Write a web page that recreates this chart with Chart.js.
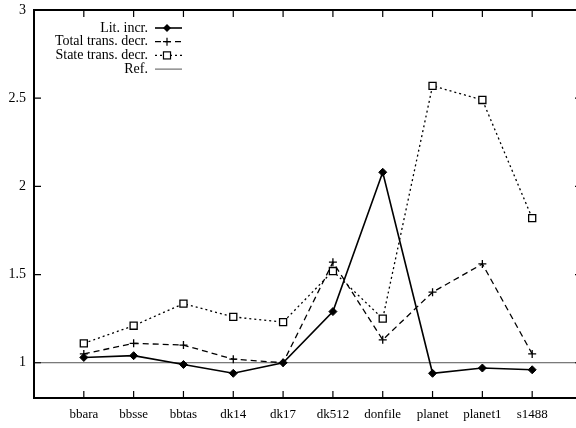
<!DOCTYPE html>
<html><head><meta charset="utf-8">
<script src="https://cdn.jsdelivr.net/npm/chart.js@4.4.0/dist/chart.umd.min.js"></script>
<style>html,body{margin:0;padding:0;background:#fff;overflow:hidden;width:576px;height:428px}
#wrap{position:relative;width:590px;height:428px}</style></head>
<body><div id="wrap"><canvas id="c" width="590" height="428"></canvas></div>
<script>
const categories = ['bbara','bbsse','bbtas','dk14','dk17','dk512','donfile','planet','planet1','s1488'];
const litIncr = [1.03,1.04,0.99,0.94,1.00,1.29,2.08,0.94,0.97,0.96];
const totalTransDecr = [1.05,1.11,1.10,1.02,1.00,1.57,1.13,1.40,1.56,1.05];
const stateTransDecr = [1.11,1.21,1.335,1.26,1.23,1.52,1.25,2.57,2.49,1.82];
const refValue = 1;
const yTicks = [1,1.5,2,2.5,3];
const seriesNames = ['Lit. incr.','Total trans. decr.','State trans. decr.','Ref.'];

const FONT = '"Liberation Serif","DejaVu Serif",serif';
const toPts = arr => arr.map((v,i)=>({x:i+1,y:v}));

const framePlugin = {
  id:'frame',
  afterDatasetsDraw(chart){
    const {ctx, chartArea:a, scales:{x,y}} = chart;
    ctx.save();
    ctx.strokeStyle='#000';
    ctx.lineWidth=1.2;
    ctx.beginPath();
    categories.forEach((c,i)=>{
      const px = x.getPixelForValue(i+1);
      ctx.moveTo(px,a.top); ctx.lineTo(px,a.top+7);
      ctx.moveTo(px,a.bottom); ctx.lineTo(px,a.bottom-7);
    });
    yTicks.forEach(v=>{
      const py = y.getPixelForValue(v);
      ctx.moveTo(a.left,py); ctx.lineTo(a.left+7,py);
      ctx.moveTo(a.right,py); ctx.lineTo(a.right-7,py);
    });
    ctx.stroke();
    ctx.lineWidth=2;
    ctx.strokeRect(a.left,a.top,a.right-a.left,a.bottom-a.top);
    ctx.restore();
  }
};

function drawMarker(ctx, style, x, y, r){
  ctx.save();
  ctx.setLineDash([]);
  ctx.lineWidth=1.2;
  ctx.strokeStyle='#000';
  if(style==='rectRot'){
    ctx.fillStyle='#000';
    ctx.beginPath();ctx.moveTo(x,y-r);ctx.lineTo(x+r,y);ctx.lineTo(x,y+r);ctx.lineTo(x-r,y);ctx.closePath();ctx.fill();
  } else if(style==='cross'){
    ctx.beginPath();ctx.moveTo(x-r,y);ctx.lineTo(x+r,y);ctx.moveTo(x,y-r);ctx.lineTo(x,y+r);ctx.stroke();
  } else if(style==='rect'){
    const s=r*Math.SQRT1_2;
    ctx.fillStyle='#fff';
    ctx.fillRect(x-s,y-s,2*s,2*s);
    ctx.strokeRect(x-s,y-s,2*s,2*s);
  }
  ctx.restore();
}

const legendPlugin = {
  id:'gpLegend',
  afterDraw(chart){
    const ctx = chart.ctx;
    ctx.save();
    ctx.font = '14px '+FONT;
    ctx.fillStyle='#000';
    ctx.textAlign='right';
    ctx.textBaseline='middle';
    chart.data.datasets.forEach((ds,i)=>{
      const yy = 28 + 13.7*i;
      ctx.fillText(ds.label, 148, yy);
      ctx.save();
      ctx.strokeStyle = ds.borderColor;
      ctx.lineWidth = ds.borderWidth;
      ctx.setLineDash(ds.borderDash || []);
      ctx.beginPath(); ctx.moveTo(155,yy); ctx.lineTo(182,yy); ctx.stroke();
      ctx.restore();
      if(ds.pointStyle && ds.pointRadius>0) drawMarker(ctx, ds.pointStyle, 167, yy, ds.pointRadius);
    });
    ctx.restore();
  }
};

new Chart(document.getElementById('c'), {
  type:'line',
  data:{
    datasets:[
      {label:seriesNames[0], data:toPts(litIncr), borderColor:'#000', borderWidth:1.6,
       pointStyle:'rectRot', pointRadius:4, pointBackgroundColor:'#000', pointBorderColor:'#000', pointBorderWidth:1},
      {label:seriesNames[1], data:toPts(totalTransDecr), borderColor:'#000', borderWidth:1.3, borderDash:[6,4],
       pointStyle:'cross', pointRadius:4, pointBorderColor:'#000', pointBorderWidth:1.3},
      {label:seriesNames[2], data:toPts(stateTransDecr), borderColor:'#000', borderWidth:1.3, borderDash:[2,3],
       pointStyle:'rect', pointRadius:5, pointBackgroundColor:'#fff', pointBorderColor:'#000', pointBorderWidth:1.3},
      {label:seriesNames[3], data:[{x:0,y:refValue},{x:categories.length+1,y:refValue}], borderColor:'#555', borderWidth:1,
       pointRadius:0}
    ]
  },
  options:{
    responsive:false, animation:false, devicePixelRatio:1,
    layout:{padding:{top:10,right:8,left:0,bottom:0}},
    plugins:{legend:{display:false}, tooltip:{enabled:false}},
    scales:{
      x:{type:'linear', min:0, max:categories.length+1,
        afterBuildTicks:s=>{s.ticks=categories.map((c,i)=>({value:i+1}));},
        afterFit:s=>{s.height=30; s.paddingLeft=0; s.paddingRight=0;},
        grid:{display:false, drawTicks:false}, border:{display:false},
        ticks:{autoSkip:false, maxRotation:0, padding:9, color:'#000', font:{family:FONT,size:13},
          callback:v=>categories[v-1] ?? ''}},
      y:{type:'linear', min:0.8, max:3,
        afterBuildTicks:s=>{s.ticks=yTicks.map(v=>({value:v}));},
        afterFit:s=>{s.width=34; s.paddingTop=0; s.paddingBottom=0;},
        grid:{display:false, drawTicks:false}, border:{display:false},
        ticks:{padding:8, color:'#000', font:{family:FONT,size:14}, callback:v=>String(v)}}
    }
  },
  plugins:[framePlugin, legendPlugin]
});
</script></body></html>
